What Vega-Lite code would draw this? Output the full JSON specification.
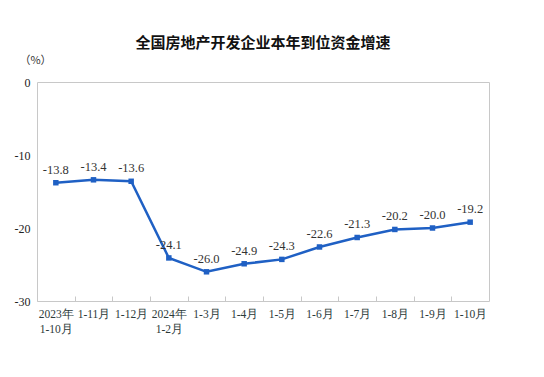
{
  "$schema": "https://vega.github.io/schema/vega-lite/v6.json",
  "width": 452,
  "height": 219,
  "autosize": {"type": "none"},
  "padding": {"left": 37, "top": 82, "right": 55, "bottom": 76},
  "background": "white",
  "title": {
    "text": "全国房地产开发企业本年到位资金增速",
    "font": "Noto Sans CJK SC",
    "fontSize": 15,
    "fontWeight": "bold",
    "color": "#111",
    "anchor": "middle",
    "offset": 3
  },
  "config": {
    "view": {"stroke": "#c8c8c8", "strokeWidth": 1},
    "font": "Liberation Serif",
    "locale": {
      "number": {
        "decimal": ".",
        "thousands": ",",
        "grouping": [3],
        "currency": ["$", ""],
        "minus": "-"
      }
    }
  },
  "data": {
    "values": [
      {"x": "2023年|1-10月", "v": -13.8},
      {"x": "1-11月", "v": -13.4},
      {"x": "1-12月", "v": -13.6},
      {"x": "2024年|1-2月", "v": -24.1},
      {"x": "1-3月", "v": -26.0},
      {"x": "1-4月", "v": -24.9},
      {"x": "1-5月", "v": -24.3},
      {"x": "1-6月", "v": -22.6},
      {"x": "1-7月", "v": -21.3},
      {"x": "1-8月", "v": -20.2},
      {"x": "1-9月", "v": -20.0},
      {"x": "1-10月", "v": -19.2}
    ]
  },
  "encoding": {
    "x": {
      "field": "x",
      "type": "nominal",
      "sort": null,
      "scale": {"paddingInner": 0, "paddingOuter": 0},
      "axis": {
        "title": null,
        "labelAngle": 0,
        "labelExpr": "split(datum.label, '|')",
        "labelFont": "Liberation Serif",
        "labelFontSize": 11.5,
        "labelColor": "#2c3a3a",
        "labelLineHeight": 15,
        "labelPadding": 12,
        "labelBaseline": "top",
        "tickOffset": -18.83,
        "labelOffset": 18.83,
        "tickSize": -5,
        "tickColor": "#c8c8c8",
        "domain": false,
        "grid": false
      }
    },
    "y": {
      "field": "v",
      "type": "quantitative",
      "scale": {"domain": [-30, 0], "nice": false},
      "axis": {
        "values": [0, -10, -20, -30],
        "title": "（%）",
        "titleAngle": 0,
        "titleX": -2,
        "titleY": -22,
        "titleAlign": "center",
        "titleBaseline": "middle",
        "titleFont": "Noto Sans CJK SC",
        "titleFontSize": 11,
        "titleFontWeight": "normal",
        "titleColor": "#333",
        "labelFont": "Liberation Serif",
        "labelFontSize": 12,
        "labelColor": "#222",
        "labelPadding": 7,
        "ticks": false,
        "domain": false,
        "grid": false
      }
    }
  },
  "layer": [
    {
      "mark": {"type": "line", "color": "#1f60c4", "strokeWidth": 2.5}
    },
    {
      "mark": {"type": "point", "shape": "square", "filled": true, "color": "#1f60c4", "size": 30, "opacity": 1}
    },
    {
      "mark": {"type": "text", "dy": -13, "fontSize": 12.5, "color": "#333", "font": "Liberation Serif"},
      "encoding": {"text": {"field": "v", "type": "quantitative", "format": ".1f"}}
    }
  ]
}
